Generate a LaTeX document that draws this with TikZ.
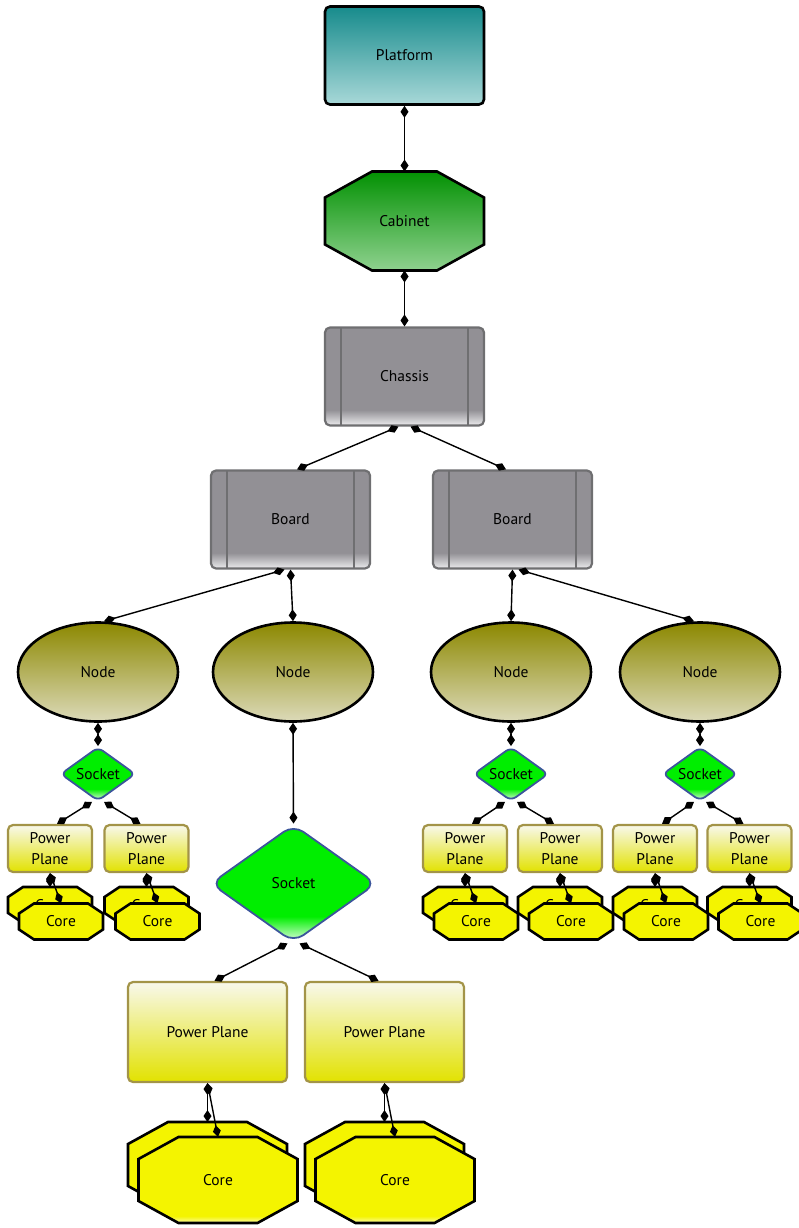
\documentclass[tikz,border=0pt]{standalone}
\usepackage{fontspec}
\setmainfont{PT Sans}
\usetikzlibrary{arrows.meta,shapes.geometric}

\definecolor{tealtop}{HTML}{178B8C}
\definecolor{tealbot}{HTML}{A8D8D8}
\definecolor{cabtop}{HTML}{009000}
\definecolor{cabbot}{HTML}{92D392}
\definecolor{chgray}{HTML}{929095}
\definecolor{chlow}{HTML}{ECECEE}
\definecolor{chline}{HTML}{6F6F71}
\definecolor{olivetop}{HTML}{8C8800}
\definecolor{olivebot}{HTML}{DCDAB9}
\definecolor{sockgreen}{HTML}{00EE00}
\definecolor{socklow}{HTML}{E6FFE6}
\definecolor{sockline}{HTML}{3B559B}
\definecolor{pptop}{HTML}{F8F8EC}
\definecolor{ppbot}{HTML}{E2E200}
\definecolor{ppline}{HTML}{A39448}
\definecolor{coreyellow}{HTML}{F4F400}
\definecolor{corelow}{HTML}{FFFFD8}

\pgfdeclareverticalshading{chassisshade}{100bp}{color(0bp)=(chlow); color(25bp)=(chlow); color(33bp)=(chgray); color(100bp)=(chgray)}
\pgfdeclareverticalshading{socketshade}{100bp}{color(0bp)=(socklow); color(25bp)=(socklow); color(36bp)=(sockgreen); color(100bp)=(sockgreen)}
\pgfdeclareverticalshading{coreshade}{100bp}{color(0bp)=(corelow); color(25bp)=(corelow); color(30bp)=(coreyellow); color(100bp)=(coreyellow)}

\begin{document}
\begin{tikzpicture}[
      x=1pt, y=-1pt,
      >={Diamond[length=12pt,width=8pt]},
      font=\fontsize{15.5}{21}\selectfont,
      box/.style={draw, rounded corners=5pt, minimum width=159pt, minimum height=98pt, inner sep=0pt, line width=2.6pt},
      platform/.style={box, top color=tealtop, bottom color=tealbot},
      chassis/.style={box, draw=chline, line width=2.2pt, shade, shading=chassisshade,
        path picture={\draw[chline, line width=1.6pt]
          ([xshift=16pt]path picture bounding box.north west) -- ([xshift=16pt]path picture bounding box.south west)
          ([xshift=-16pt]path picture bounding box.north east) -- ([xshift=-16pt]path picture bounding box.south east);}},
      olive/.style={draw, ellipse, minimum width=160pt, minimum height=99pt, inner sep=0pt, line width=2.6pt, top color=olivetop, bottom color=olivebot},
      socket/.style={draw=sockline, diamond, aspect=1.35, minimum width=75pt, minimum height=54pt, inner sep=0pt, rounded corners=6pt, line width=1.8pt, shade, shading=socketshade},
      bigsocket/.style={socket, minimum width=166pt, minimum height=118pt, rounded corners=12pt},
      pp/.style={box, draw=ppline, line width=2.2pt, top color=pptop, bottom color=ppbot, minimum width=84pt, minimum height=47pt, align=center},
      bigpp/.style={pp, minimum width=159pt, minimum height=100pt},
      octfill/.style={shade, shading=coreshade},
      octo/.style n args={4}{rectangle, inner sep=0pt, outer sep=-2pt, minimum width=#1+4pt, minimum height=#2+4pt,
        path picture={\path[octfill, draw=black, line width=2.6pt]
          ([shift={(#3+2pt,-2pt)}]path picture bounding box.north west)
          -- ([shift={(-#3-2pt,-2pt)}]path picture bounding box.north east)
          -- ([shift={(-2pt,-#4-2pt)}]path picture bounding box.north east)
          -- ([shift={(-2pt,#4+2pt)}]path picture bounding box.south east)
          -- ([shift={(-#3-2pt,2pt)}]path picture bounding box.south east)
          -- ([shift={(#3+2pt,2pt)}]path picture bounding box.south west)
          -- ([shift={(2pt,#4+2pt)}]path picture bounding box.south west)
          -- ([shift={(2pt,-#4-2pt)}]path picture bounding box.north west)
          -- cycle;}},
      cabinet/.style={octo={159pt}{99pt}{47pt}{26pt}, octfill/.style={top color=cabtop, bottom color=cabbot}},
      bigcore/.style={octo={159pt}{86pt}{40pt}{22pt}},
      smallcore/.style={octo={84pt}{36pt}{15pt}{10pt}}
    ]
    \useasboundingbox (0,0) rectangle (799,1228);

    \node[platform] (platform) at (404.5,55.5) {Platform};
    \node[cabinet] (cabinet) at (404.5,221) {Cabinet};
    \node[chassis] (chassis) at (404.5,376.5) {Chassis};
    \node[chassis] (boardL) at (290.5,519.5) {Board};
    \node[chassis] (boardR) at (512.5,519.5) {Board};

    \node[olive] (nodeA) at (98,672) {Node};
    \node[olive] (nodeB) at (293,672) {Node};
    \node[olive] (nodeC) at (511,672) {Node};
    \node[olive] (nodeD) at (700,672) {Node};

    \node[socket] (sockA) at (98,774) {Socket};
    \node[socket] (sockC) at (511,774) {Socket};
    \node[socket] (sockD) at (700,774) {Socket};
    \node[bigsocket] (sockB) at (293.5,883.5) {Socket};

    % small power planes with their cores
    \foreach \n/\x in {A1/50,A2/146.5,C1/465,C2/560,D1/655,D2/749.5}{
      \node[pp] (pp\n) at (\x,848.5) {Power\\Plane};
      \node[smallcore] (back\n) at (\x,905) {Core};
      \node[smallcore] (core\n) at (\x+11,921.5) {Core};
    }
    % big power planes with their cores
    \foreach \n/\x in {B1/207.5,B2/384.5}{
      \node[bigpp] (pp\n) at (\x,1032) {Power Plane};
      \node[bigcore] (back\n) at (\x,1165) {Core};
      \node[bigcore] (core\n) at (\x+10.5,1180) {Core};
    }

    \draw[<->, line width=1.4pt] (platform) -- (cabinet);
    \draw[<->, line width=1.4pt] (cabinet) -- (chassis);
    \draw[<->, line width=1.4pt] ([xshift=-6pt]chassis.south) -- ([xshift=6.5pt]boardL.north);
    \draw[<->, line width=1.4pt] ([xshift=6pt]chassis.south) -- ([xshift=-6.5pt]boardR.north);
    \draw[<->, line width=1.4pt] ([xshift=-6pt]boardL.south) -- ([xshift=6pt]nodeA.north);
    \draw[<->, line width=1.4pt] (boardL.south) -- (nodeB.north);
    \draw[<->, line width=1.4pt] (boardR.south) -- (nodeC.north);
    \draw[<->, line width=1.4pt] ([xshift=6pt]boardR.south) -- ([xshift=-6pt]nodeD.north);
    \foreach \s in {A,B,C,D}
      \draw[<->, line width=1.4pt] (node\s.south) -- (sock\s.north);
    \foreach \s in {A,B,C,D}{
      \draw[<->, line width=1.4pt] ([xshift=-6pt]sock\s.south) -- ([xshift=7pt]pp\s1.north);
      \draw[<->, line width=1.4pt] ([xshift=6pt]sock\s.south) -- ([xshift=-6pt]pp\s2.north);
    }
    \foreach \n in {A1,A2,B1,B2,C1,C2,D1,D2}{
      \draw[<->, line width=1.4pt] (pp\n.south) -- (back\n.north);
      \draw[<->, line width=1.4pt] (pp\n.south) -- (core\n.north);
    }
  \end{tikzpicture}
\end{document}
